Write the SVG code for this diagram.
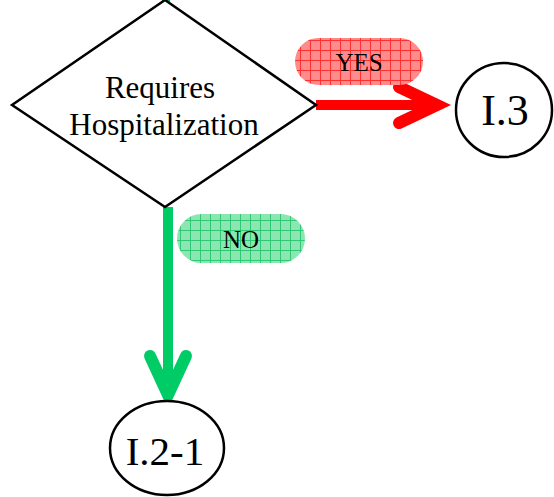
<svg xmlns="http://www.w3.org/2000/svg" width="554" height="497" viewBox="0 0 554 497">
<style>
.shape{fill:#fff;stroke:#000;stroke-width:2.5}
.t{font-family:"Liberation Serif","Times New Roman",serif;fill:#000;text-anchor:middle}
.red{stroke:#ff0000;fill:none}
.green{stroke:#00cc66;fill:none}
</style>
<defs>
<pattern id="hr" width="10" height="10" patternUnits="userSpaceOnUse">
<rect width="10" height="10" fill="#ff8c8c"/>
<path d="M0 0.5H10M0.5 0V10" stroke="#ff3030" stroke-width="1"/>
</pattern>
<pattern id="hg" width="10" height="10" patternUnits="userSpaceOnUse">
<rect width="10" height="10" fill="#8ce6b2"/>
<path d="M0 0.5H10M0.5 0V10" stroke="#30c874" stroke-width="1"/>
</pattern>
</defs>
<g id="connectors">
<line class="green" x1="166" y1="-10" x2="166" y2="2" stroke-width="8"/>
<line class="red" x1="316" y1="105" x2="432" y2="105" stroke-width="10"/>
<polyline class="red" points="399,87 437,105 399,123" stroke-width="12" stroke-linecap="round" stroke-linejoin="miter"/>
<line class="green" x1="168" y1="207" x2="168" y2="392" stroke-width="10"/>
<polyline class="green" points="150,356 168,395 186,356" stroke-width="12" stroke-linecap="round" stroke-linejoin="miter"/>
</g>
<g id="label-yes">
<rect x="295" y="38" width="128" height="47" rx="23.5" fill="url(#hr)"/>
<text class="t" x="359" y="71" font-size="25">YES</text>
</g>
<g id="label-no">
<rect x="177" y="214" width="128" height="49" rx="24.5" fill="url(#hg)"/>
<text class="t" x="241" y="248" font-size="25">NO</text>
</g>
<g id="decision">
<polygon class="shape" points="165,0 316,105 165,207 12,105"/>
<text class="t" x="160" y="98" font-size="31">Requires</text>
<text class="t" x="164" y="135" font-size="31">Hospitalization</text>
</g>
<g id="node-i3">
<ellipse class="shape" cx="504" cy="110" rx="48" ry="47"/>
<text class="t" x="505" y="125" font-size="44">I.3</text>
</g>
<g id="node-i2-1">
<ellipse class="shape" cx="167" cy="448" rx="57" ry="47"/>
<text class="t" x="165" y="465" font-size="41">I.2-1</text>
</g>
</svg>
